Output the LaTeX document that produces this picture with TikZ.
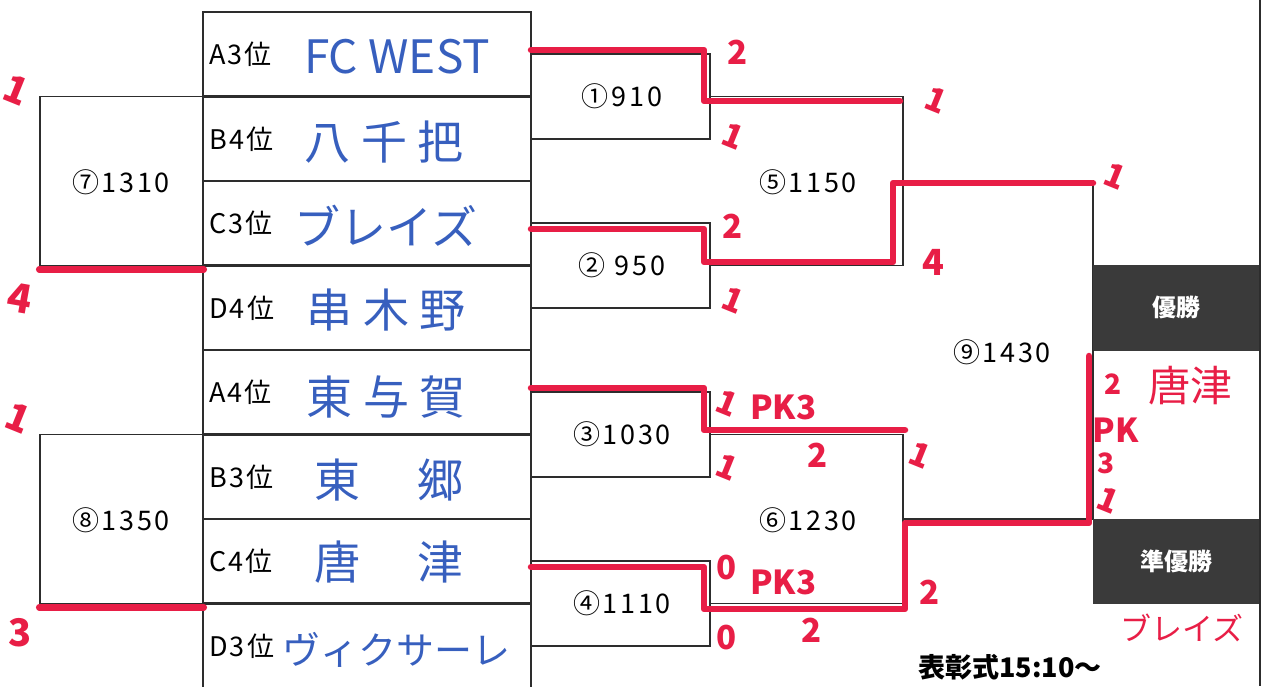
\documentclass[tikz,border=0pt]{standalone}
\usepackage{fontspec}
\usetikzlibrary{calc}
\setmainfont{Noto Sans CJK JP}
\newfontfamily\numf{Noto Sans CJK JP}[LetterSpace=10]
\newfontfamily\lblf{Noto Sans CJK JP}[LetterSpace=8]
\definecolor{mkred}{RGB}{232,30,70}
\definecolor{inkblue}{RGB}{55,95,190}
\definecolor{darkbox}{RGB}{58,58,58}
\definecolor{frame}{RGB}{45,45,45}
\begin{document}
\begin{tikzpicture}[x=1pt,y=-1pt,
  teamrow/.style={draw=frame,line width=2.6pt,minimum width=328pt,minimum height=84.5pt,inner sep=0pt},
  matchbox/.style={draw=frame,line width=1.6pt,inner sep=0pt},
  mlabel/.style={font=\numf\fontsize{27}{29}\selectfont,inner sep=0pt},
  bline/.style={draw=frame,line width=1.6pt},
  rline/.style={draw=mkred,line width=6.5pt,line cap=round,line join=round},
  poslbl/.style={anchor=west,font=\lblf\fontsize{27}{29}\selectfont,inner sep=0pt},
  hand/.style={text=inkblue,font=\fontsize{46}{50}\selectfont,inner sep=0pt},
  score/.style={text=mkred,font=\bfseries\fontsize{33}{35}\selectfont,inner sep=0pt},
  one/.style={score,rotate=-22},
  result/.style={fill=darkbox,draw=darkbox,minimum width=167pt,minimum height=84.5pt,inner sep=0pt,text=white,font=\bfseries\fontsize{24}{26}\selectfont}
]
\useasboundingbox (0,0) rectangle (1264,686);
\clip (0,0) rectangle (1264,686);
% team rows
\foreach \i/\lab in {1/A3位,2/B4位,3/C3位,4/D4位,5/A4位,6/B3位,7/C4位,8/D3位}{
  \node[teamrow] (t\i) at (367,{12+(\i-0.5)*84.5}) {};
  \node[poslbl] (p\i) at (209,{12+(\i-0.5)*84.5}) {\lab};
}
% team names
\node[hand] (n1) at (397,57) {FC WEST};
\node[hand] (n2) at (384,142) {八 千 把};
\node[hand] (n3) at (386,226) {ブレイズ};
\node[hand] (n4) at (386,310) {串 木 野};
\node[hand] (n5) at (386,397) {東 与 賀};
\node[hand] (n6) at (389,480) {東　 郷};
\node[hand] (n7) at (389,562) {唐　 津};
\node[hand,font=\fontsize{38}{42}\selectfont] (n8) at (396,650) {ヴィクサーレ};
% first round boxes
\foreach \k/\y/\t in {1/96.5/①910,2/265.5/② 950,3/434.5/③1030,4/603.5/④1110}{
  \node[matchbox,minimum width=179pt,minimum height=84.5pt] (m\k) at (620.5,\y) {};
  \node[mlabel] (l\k) at (622,\y) {\t};
}
% left boxes
\node[matchbox,minimum width=163pt,minimum height=169pt] (m7) at (121.5,181) {};
\node[mlabel] (l7) at (121,182) {⑦1310};
\node[matchbox,minimum width=163pt,minimum height=169pt] (m8) at (121.5,519) {};
\node[mlabel] (l8) at (121,520) {⑧1350};
% second round brackets
\coordinate (r5) at (903,0);
\coordinate (r9) at (1093,0);
\draw[bline] (m1.east) -- (m1.east -| r5) -- (m2.east -| r5) -- (m2.east);
\draw[bline] (m3.east) -- (m3.east -| r5) -- (m4.east -| r5) -- (m4.east);
\node[mlabel] (l5) at (808,182) {⑤1150};
\node[mlabel] (l6) at (808,520) {⑥1230};
\coordinate (j5) at (903,181);
\coordinate (j6) at (903,519);
\draw[bline] (j5) -- (j5 -| r9) -- (j6 -| r9) -- (j6);
\node[mlabel] (l9) at (1002,352) {⑨1430};
% final column
\node[result] (win) at (1176.5,307.75) {優勝};
\node[result] (run) at (1176.5,561.25) {準優勝};
\draw[bline] (win.north west) -- (j5 -| r9);
\draw[bline] (win.south west) -- (run.north west);
\coordinate (rt) at (1260,0);
\coordinate (rb) at (1260,686);
\draw[draw=frame,line width=2pt] (rt) -- (rb);
% red results
\draw[rline] ($(m7.south west)+(0,3)$) -- ($(m7.south east)+(0,3)$);
\draw[rline] ($(m8.south west)+(0,3)$) -- ($(m8.south east)+(0,3)$);
\draw[rline] (531,50) -- (704,50) -- (704,101) -- (900,101);
\draw[rline] (531,229) -- (704,229) -- (704,262) -- (893,262) -- (893,183) -- (1093,183);
\draw[rline] (531,388) -- (704,388) -- (704,430) -- (905,430);
\draw[rline] (531,567) -- (704,567) -- (704,609) -- (905,609) -- (905,523) -- (1089,523) -- (1089,356);
% scores
\node[one,font=\bfseries\fontsize{38}{40}\selectfont] (s1) at (16,90) {1};
\node[score,font=\bfseries\fontsize{40}{42}\selectfont,rotate=-10] (s2) at (20,298) {4};
\node[one,font=\bfseries\fontsize{38}{40}\selectfont] (s3) at (18,418) {1};
\node[score,font=\bfseries\fontsize{38}{40}\selectfont] (s4) at (20,633) {3};
\node[score] (s5) at (738,52) {2};
\node[one] (s6) at (733,136) {1};
\node[score] (s7) at (733,226) {2};
\node[one] (s8) at (733,300) {1};
\node[one] (s9) at (936,100) {1};
\node[score,font=\bfseries\fontsize{36}{38}\selectfont] (s10) at (933,262) {4};
\node[one] (s11) at (1115,176) {1};
\node[one] (s12) at (727,403) {1};
\node[score,anchor=west] (s13) at (750,407) {PK3};
\node[score] (s14) at (818,455) {2};
\node[one] (s15) at (727,467) {1};
\node[one] (s16) at (920,455) {1};
\node[score] (s17) at (727,568) {0};
\node[score,anchor=west] (s18) at (750,582) {PK3};
\node[score] (s19) at (727,638) {0};
\node[score] (s20) at (812,630) {2};
\node[score] (s21) at (930,592) {2};
\node[score,font=\bfseries\fontsize{28}{30}\selectfont] (s22) at (1113,384) {2};
\node[score,font=\bfseries\fontsize{33}{35}\selectfont] (s23) at (1116,430) {PK};
\node[score,font=\bfseries\fontsize{28}{30}\selectfont] (s24) at (1106,463) {3};
\node[one] (s25) at (1108,500) {1};
\node[text=mkred,font=\fontsize{42}{46}\selectfont,inner sep=0pt] (w1) at (1190,386) {唐津};
\node[text=mkred,font=\fontsize{31}{34}\selectfont,inner sep=0pt] (w2) at (1182,628) {ブレイズ};
\node[font=\bfseries\fontsize{27}{29}\selectfont,inner sep=0pt] (cer) at (1010,667) {表彰式15:10～};
\end{tikzpicture}
\end{document}
